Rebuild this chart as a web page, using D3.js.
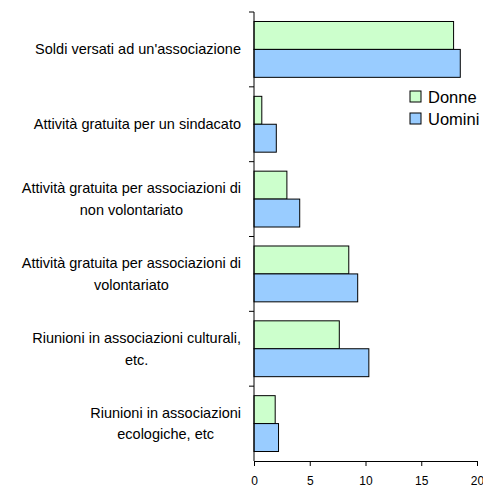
<!DOCTYPE html>
<html>
<head>
<meta charset="utf-8">
<script src="https://cdn.jsdelivr.net/npm/d3@7"></script>
<style>
  body { margin: 0; background: #fff; }
  svg { display: block; font-family: "Liberation Sans", Arial, sans-serif; }
</style>
</head>
<body>
<div id="chart"></div>
<script>
'use strict'

const categories = [
  ['Soldi versati ad un\'associazione'],
  ['Attività gratuita per un sindacato'],
  ['Attività gratuita per associazioni di', 'non volontariato'],
  ['Attività gratuita per associazioni di', 'volontariato'],
  ['Riunioni in associazioni culturali,', 'etc.'],
  ['Riunioni in associazioni', 'ecologiche, etc']
]
const seriesNames = ['Donne', 'Uomini']
const donne = [17.9, 0.7, 2.95, 8.5, 7.65, 1.9]
const uomini = [18.5, 2.0, 4.1, 9.3, 10.3, 2.2]
const xTicks = [0, 5, 10, 15, 20]
const colors = { Donne: '#ccffcc', Uomini: '#99ccff' }

const width = 483
const height = 488
const plotLeft = 254
const plotRight = 477
const plotTop = 12
const plotBottom = 461

const svg = d3.select('#chart').append('svg')
  .attr('width', width)
  .attr('height', height)

const x = d3.scaleLinear().domain([0, 20]).range([plotLeft, plotRight])
const y = d3.scaleBand().domain(d3.range(categories.length)).range([plotTop, plotBottom])
const sub = d3.scaleBand().domain(seriesNames).range([0, y.bandwidth()])
  .paddingInner(0).paddingOuter(0.34)

const values = { Donne: donne, Uomini: uomini }

// bars
const groups = svg.append('g').attr('class', 'bars')
  .selectAll('g')
  .data(d3.range(categories.length))
  .enter()
  .append('g')
  .attr('transform', i => `translate(0,${y(i)})`)

groups.selectAll('rect')
  .data(i => seriesNames.map(s => ({ s, v: values[s][i] })))
  .enter()
  .append('rect')
  .attr('x', x(0))
  .attr('y', d => sub(d.s))
  .attr('width', d => x(d.v) - x(0))
  .attr('height', sub.bandwidth())
  .attr('fill', d => colors[d.s])
  .attr('stroke', '#000')
  .attr('stroke-width', 1)

// x axis
const xAxis = svg.append('g')
  .attr('transform', `translate(0,${plotBottom})`)
  .call(d3.axisBottom(x).tickValues(xTicks).tickSize(5).tickPadding(10).tickSizeOuter(0))
xAxis.select('.domain').attr('stroke', '#000')
xAxis.selectAll('.tick text').attr('font-size', 12).attr('fill', '#000')
  .attr('font-family', '"Liberation Sans", Arial, sans-serif')

// y axis line and ticks at category boundaries
const yAxis = svg.append('g').attr('class', 'yaxis')
yAxis.append('line')
  .attr('x1', x(0)).attr('x2', x(0))
  .attr('y1', plotTop).attr('y2', plotBottom)
  .attr('stroke', '#000')
yAxis.selectAll('line.tick')
  .data(d3.range(categories.length))
  .enter()
  .append('line')
  .attr('class', 'tick')
  .attr('x1', x(0) - 5).attr('x2', x(0))
  .attr('y1', i => y(i)).attr('y2', i => y(i))
  .attr('stroke', '#000')

// category labels
const labelRight = 241
const lineH = 21.5
categories.forEach((lines, i) => {
  const g = svg.append('g')
  const cy = y(i) + y.bandwidth() / 2
  const texts = lines.map((t, k) => g.append('text')
    .attr('y', cy + (k - (lines.length - 1) / 2) * lineH)
    .attr('dy', '0.35em')
    .attr('font-size', 14.5)
    .attr('text-anchor', 'middle')
    .text(t))
  const maxW = d3.max(texts, t => t.node().getComputedTextLength())
  texts.forEach(t => t.attr('x', labelRight - maxW / 2))
})

// legend
const legend = svg.append('g').attr('class', 'legend')
  .selectAll('g')
  .data(seriesNames)
  .enter()
  .append('g')
  .attr('transform', (d, i) => `translate(410,${91 + i * 22})`)
legend.append('rect')
  .attr('width', 11).attr('height', 11)
  .attr('fill', d => colors[d])
  .attr('stroke', '#000')
legend.append('text')
  .attr('x', 18).attr('y', 6)
  .attr('dy', '0.35em')
  .attr('font-size', 16.5)
  .text(d => d)
</script>
</body>
</html>
